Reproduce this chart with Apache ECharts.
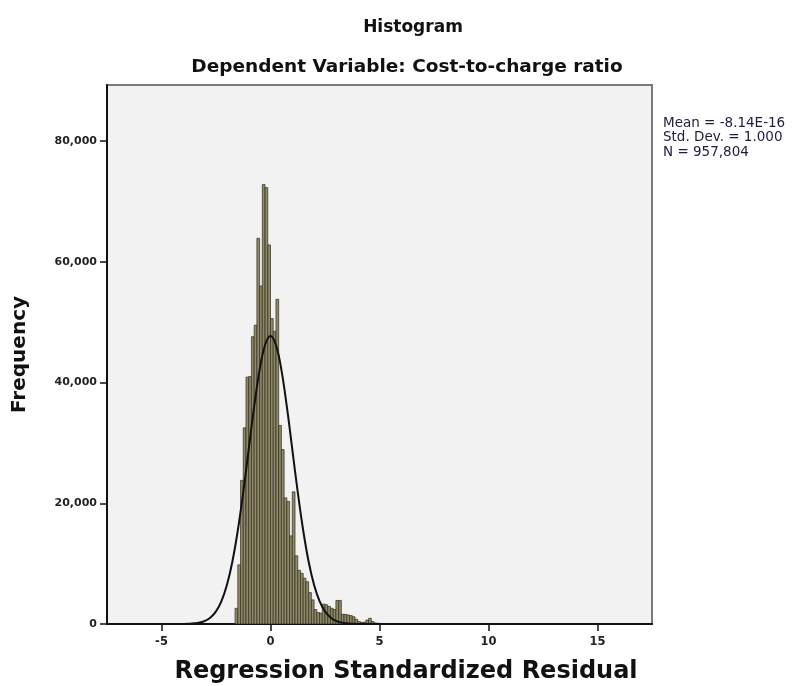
<!DOCTYPE html>
<html><head><meta charset="utf-8">
<script src="https://cdn.jsdelivr.net/npm/echarts@6/dist/echarts.min.js"></script>
<style>html,body{margin:0;padding:0;background:#fff}#c{width:804px;height:686px}</style>
</head><body><div id="c"></div>
<script>
// ---- data ----
const binWidth = 0.125;
const binLeft = [
  -1.625, -1.5, -1.375, -1.25, -1.125, -1.0, -0.875, -0.75, -0.625, -0.5,
  -0.375, -0.25, -0.125, 0.0, 0.125, 0.25, 0.375, 0.5, 0.625, 0.75,
  0.875, 1.0, 1.125, 1.25, 1.375, 1.5, 1.625, 1.75, 1.875, 2.0,
  2.125, 2.25, 2.375, 2.5, 2.625, 2.75, 2.875, 3.0, 3.125, 3.25,
  3.375, 3.5, 3.625, 3.75, 3.875, 4.0, 4.125, 4.25, 4.375, 4.5,
  4.625, 4.75, 4.875, 5.0, 5.125, 5.25, 5.375, 5.5, 5.625, 5.75,
  5.875, 6.0, 6.125, 6.25, 6.375, 6.5, 6.625, 6.75, 6.875, 7.0,
  7.125, 7.25, 7.375
];
const frequency = [
  2600, 9800, 23800, 32500, 40900, 41000, 47600, 49500, 63900, 56000,
  72800, 72300, 62800, 50600, 48500, 53800, 32900, 28900, 20900, 20300,
  14600, 21900, 11300, 8900, 8400, 7600, 7000, 5200, 4000, 2400,
  1900, 1800, 3300, 3200, 2900, 2600, 2400, 3900, 3900, 1600,
  1600, 1500, 1400, 1200, 780, 400, 250, 300, 660, 940,
  400, 170, 120, 90, 70, 60, 50, 40, 40, 30,
  30, 25, 20, 20, 60, 80, 40, 15, 10, 10,
  8, 5, 5
];
const curveX = [-7.5, -4.5, -4, -3.75, -3.5, -3.25, -3, -2.75, -2.5, -2.25, -2, -1.75, -1.5, -1.25, -1, -0.75, -0.5, -0.25,
  0, 0.25, 0.5, 0.75, 1, 1.25, 1.5, 1.75, 2, 2.25, 2.5, 2.75, 3, 3.25, 3.5, 3.75, 4, 4.5, 17.5];
const curveY = [0, 2, 16, 42, 105, 240, 530, 1090, 2090, 3800, 6450, 10320, 15490, 21840, 28930, 36000, 42100, 46230,
  47700, 46230, 42100, 36000, 28930, 21840, 15490, 10320, 6450, 3800, 2090, 1090, 530, 240, 105, 42, 16, 2, 0];
const xTickValues = [-5, 0, 5, 10, 15];
const yTickValues = [0, 20000, 40000, 60000, 80000];
const statsLines = ['Mean = -8.14E-16', 'Std. Dev. = 1.000', 'N = 957,804'];
const chartTitle = 'Histogram';
const chartSubtitle = 'Dependent Variable: Cost-to-charge ratio';
const xName = 'Regression Standardized Residual';
const yName = 'Frequency';

// ---- chart ----
const FONT = 'DejaVu Sans';
const chart = echarts.init(document.getElementById('c'), null, { renderer: 'canvas' });
const barData = binLeft.map((b, i) => [b, b + binWidth, frequency[i]]);
const curveData = curveX.map((x, i) => [x, curveY[i]]);
const fmtThousands = v => String(v).replace(/\B(?=(\d{3})+(?!\d))/g, ',');

const textGraphics = [
  { type: 'text', x: 413, y: 28, style: { text: chartTitle, fontFamily: FONT, fontWeight: 'bold', fontSize: 17,
      fill: '#111', align: 'center', verticalAlign: 'middle' } },
  { type: 'text', x: 407, y: 67, style: { text: chartSubtitle, fontFamily: FONT, fontWeight: 'bold', fontSize: 18.5,
      fill: '#111', align: 'center', verticalAlign: 'middle' } },
  { type: 'text', x: 406, y: 672, style: { text: xName, fontFamily: FONT, fontWeight: 'bold', fontSize: 24,
      fill: '#111', align: 'center', verticalAlign: 'middle' } }
];
const statGraphics = statsLines.map((t, i) => ({
  type: 'text', x: 663, y: 123 + i * 14.5,
  style: { text: t, fontFamily: FONT, fontSize: 13.5, fill: '#1c1c3c', verticalAlign: 'middle' }
}));

const option = {
  backgroundColor: '#ffffff',
  animation: false,
  grid: { left: 107, right: 152, top: 85, bottom: 62, show: true,
          backgroundColor: '#f2f2f2', borderColor: '#7a7a7a', borderWidth: 2 },
  xAxis: {
    type: 'value', min: -7.5, max: 17.5,
    axisLine: { show: true, onZero: false, lineStyle: { color: '#111', width: 2 } },
    axisTick: { show: true, length: 7, customValues: xTickValues, lineStyle: { color: '#111', width: 1.5 } },
    axisLabel: { customValues: xTickValues, margin: 12,
      fontFamily: FONT, fontWeight: 'bold', fontSize: 11.5, color: '#222' },
    splitLine: { show: false }
  },
  yAxis: {
    type: 'value', min: 0, max: 89300,
    name: yName, nameLocation: 'middle', nameGap: 77,
    nameTextStyle: { fontFamily: FONT, fontWeight: 'bold', fontSize: 20, color: '#111' },
    axisLine: { show: true, onZero: false, lineStyle: { color: '#111', width: 2 } },
    axisTick: { show: true, length: 7, customValues: yTickValues, lineStyle: { color: '#111', width: 1.5 } },
    axisLabel: { customValues: yTickValues, margin: 10, formatter: fmtThousands,
      fontFamily: FONT, fontWeight: 'bold', fontSize: 11, color: '#222' },
    splitLine: { show: false }
  },
  series: [
    {
      type: 'custom',
      data: barData,
      encode: { x: [0, 1], y: 2 },
      clip: true,
      z: 2,
      renderItem: function (params, api) {
        const x0 = api.value(0), x1 = api.value(1), y = api.value(2);
        const p0 = api.coord([x0, 0]);
        const p1 = api.coord([x1, y]);
        return {
          type: 'rect',
          shape: { x: p0[0], y: p1[1], width: p1[0] - p0[0], height: p0[1] - p1[1] },
          style: { fill: '#8f8965', stroke: '#2f2d23', lineWidth: 0.7 }
        };
      }
    },
    {
      type: 'line',
      data: curveData,
      showSymbol: false,
      smooth: 0.4,
      clip: true,
      z: 3,
      lineStyle: { color: '#111', width: 2 }
    }
  ],
  graphic: textGraphics.concat(statGraphics)
};
chart.setOption(option);
</script>
</body></html>
